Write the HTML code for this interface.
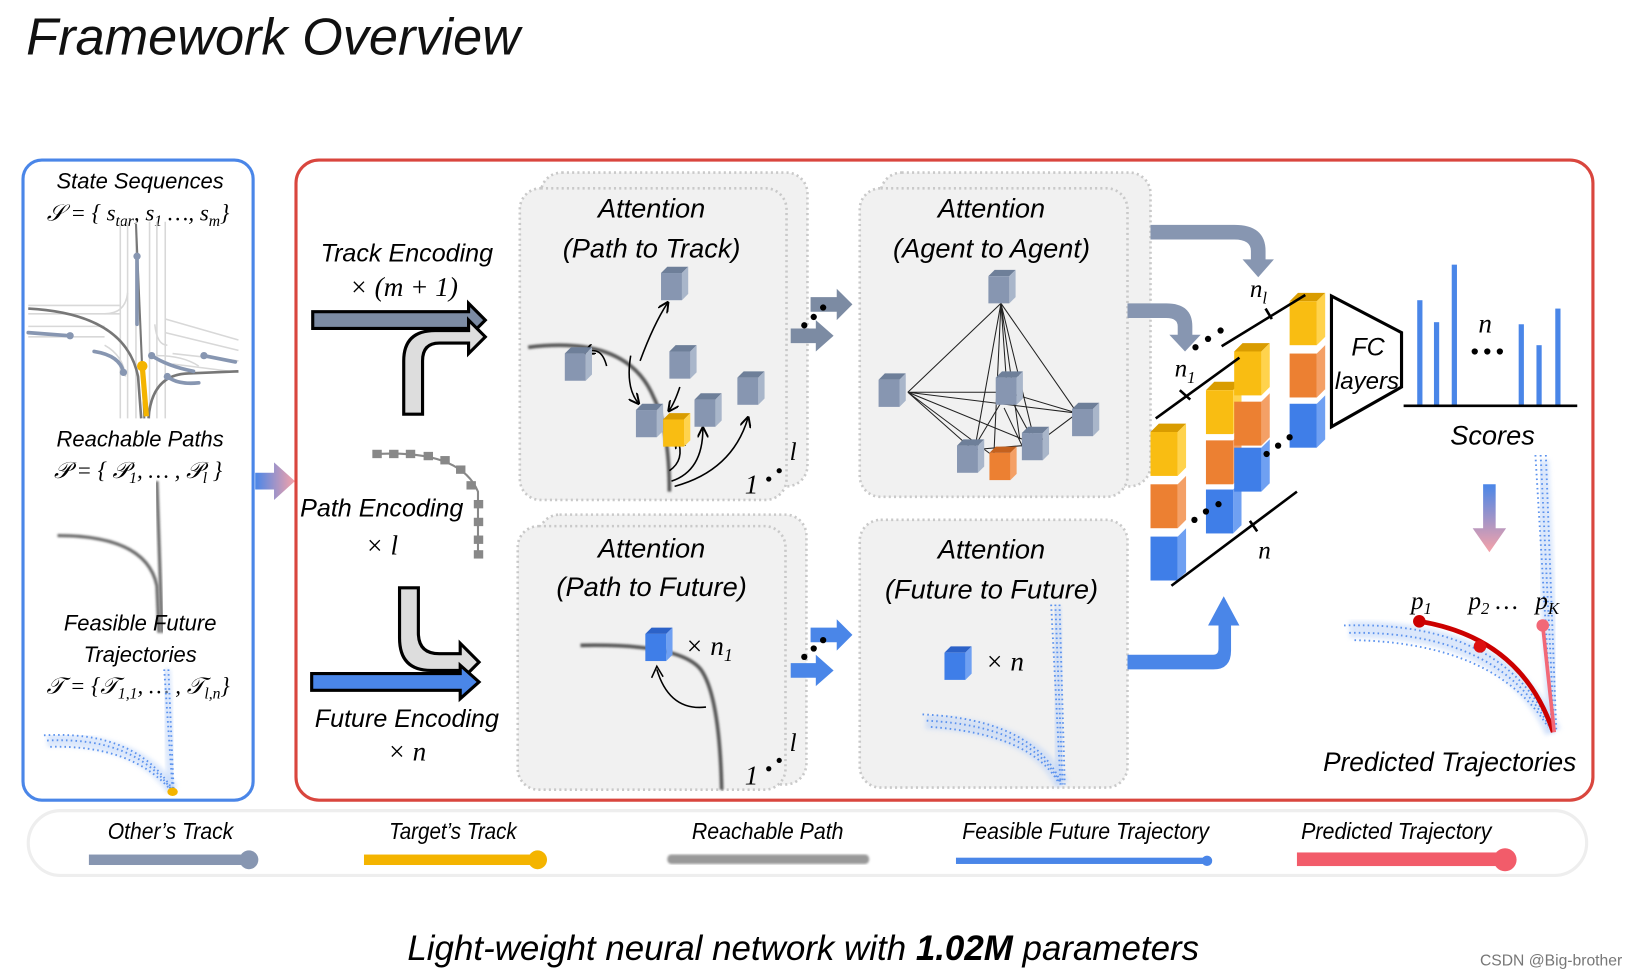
<!DOCTYPE html>
<html><head><meta charset="utf-8"><style>
html,body{margin:0;padding:0;background:#fff;}
svg{display:block;}
text{font-family:"Liberation Sans","DejaVu Sans",sans-serif;}
.it{font-style:italic;}
.m{font-family:"Liberation Serif","DejaVu Serif",serif;font-style:italic;}
</style></head><body>
<svg width="1640" height="978" viewBox="0 0 1568 935" xmlns="http://www.w3.org/2000/svg">
<defs>
<g id="cg"><path d="M0,6 L6,0 L26,0 L20,6Z" fill="#6e7f99"/><path d="M20,6 L26,0 L26,26 L20,32Z" fill="#a9b6ca"/><rect x="0" y="6" width="20" height="26" fill="#8796b1"/></g>
<g id="cy"><path d="M0,6 L6,0 L26,0 L20,6Z" fill="#d99c00"/><path d="M20,6 L26,0 L26,26 L20,32Z" fill="#ffd34d"/><rect x="0" y="6" width="20" height="26" fill="#f9bd12"/></g>
<g id="co"><path d="M0,6 L6,0 L26,0 L20,6Z" fill="#c4611e"/><path d="M20,6 L26,0 L26,26 L20,32Z" fill="#f4a066"/><rect x="0" y="6" width="20" height="26" fill="#ec8032"/></g>
<g id="cb"><path d="M0,6 L6,0 L26,0 L20,6Z" fill="#2c62c8"/><path d="M20,6 L26,0 L26,26 L20,32Z" fill="#6fa0f2"/><rect x="0" y="6" width="20" height="26" fill="#3f7ee8"/></g>
<g id="sy"><path d="M0,8 L8,0 L34,0 L26,8Z" fill="#d99c00"/><path d="M26,8 L34,0 L34,42 L26,50Z" fill="#ffd34d"/><rect x="0" y="8" width="26" height="42" fill="#f9bd12"/></g>
<g id="so"><path d="M26,8 L34,0 L34,42 L26,50Z" fill="#f4a066"/><rect x="0" y="8" width="26" height="42" fill="#ec8032"/></g>
<g id="sb"><path d="M26,8 L34,0 L34,42 L26,50Z" fill="#6fa0f2"/><rect x="0" y="8" width="26" height="42" fill="#3f7ee8"/></g>
<linearGradient id="bp" x1="0" x2="1"><stop offset="0" stop-color="#4a86e8"/><stop offset="1" stop-color="#f7a2a8"/></linearGradient>
<linearGradient id="bpv" x1="0" x2="0" y1="0" y2="1"><stop offset="0" stop-color="#4a86e8"/><stop offset="1" stop-color="#f7a2a8"/></linearGradient>
<filter id="bl"><feGaussianBlur stdDeviation="2"/></filter>
<filter id="bl1"><feGaussianBlur stdDeviation="1"/></filter>
<marker id="ah" viewBox="0 0 10 10" refX="8" refY="5" markerWidth="7" markerHeight="7" orient="auto-start-reverse"><path d="M0,0L10,5L0,10" fill="none" stroke="#000" stroke-width="1.8"/></marker>
</defs>

<!-- Title -->
<text x="25" y="52" font-size="50" class="it" fill="#111">Framework Overview</text>

<!-- Left blue box -->
<rect x="22" y="153" width="220" height="612" rx="18" fill="#fff" stroke="#4a86e8" stroke-width="3"/>
<text x="134" y="180" font-size="21" class="it" text-anchor="middle">State Sequences</text>
<text x="132" y="211" font-size="22" class="m" text-anchor="middle">𝒮 = { s<tspan font-size="15" dy="5">tar</tspan><tspan dy="-5">, s</tspan><tspan font-size="15" dy="5">1</tspan><tspan dy="-5"> …, s</tspan><tspan font-size="15" dy="5">m</tspan><tspan dy="-5">}</tspan></text>
<g stroke="#d8d8d8" stroke-width="1.5" fill="none">
<path d="M115,212V400M122,212V400M130,212V400M143,212V400M150,212V400M158,212V400"/>
<path d="M27,292H115M27,300H115M27,312H100M27,322H100M158,305L228,325M158,318L228,335M165,338L228,345M165,348L228,356"/>
<path d="M100,300Q120,300 122,280M160,330Q150,330 148,310M100,330Q118,340 120,360M150,340Q175,340 190,350"/>
</g>
<path d="M27,295Q120,300 132,360L135,400" stroke="#777" stroke-width="2.5" fill="none"/>
<path d="M130,214L138,400" stroke="#777" stroke-width="2" fill="none"/>
<path d="M142,400Q145,358 180,357L228,355" stroke="#777" stroke-width="2.5" fill="none"/>
<g stroke="#8796b1" stroke-width="3.5" fill="none" stroke-linecap="round">
<path d="M131,245V310"/><path d="M27,318L67,321"/><path d="M90,336Q115,340 118,356"/><path d="M145,340Q160,350 185,355"/><path d="M195,340L225,346"/><path d="M160,360Q170,368 190,366"/>
</g>
<g fill="#8796b1"><circle cx="131" cy="245" r="3.5"/><circle cx="67" cy="321" r="3.5"/><circle cx="118" cy="356" r="3.5"/><circle cx="145" cy="340" r="3.5"/><circle cx="195" cy="340" r="3.5"/><circle cx="160" cy="360" r="3.5"/></g>
<path d="M136,350L140,398" stroke="#f4b400" stroke-width="5"/><circle cx="136" cy="350" r="5" fill="#f4b400"/>

<text x="134" y="427" font-size="21" class="it" text-anchor="middle">Reachable Paths</text>
<text x="132" y="457" font-size="22" class="m" text-anchor="middle">𝒫 = { 𝒫<tspan font-size="15" dy="5">1</tspan><tspan dy="-5">, … , 𝒫</tspan><tspan font-size="15" dy="5">l</tspan><tspan dy="-5"> }</tspan></text>
<path d="M55,512Q140,512 150,560L152,605" stroke="#666" stroke-width="3" fill="none" filter="url(#bl1)"/>
<path d="M150,460L155,605" stroke="#666" stroke-width="3" fill="none" filter="url(#bl1)"/>

<text x="134" y="603" font-size="21" class="it" text-anchor="middle">Feasible Future</text>
<text x="134" y="633" font-size="21" class="it" text-anchor="middle">Trajectories</text>
<text x="132" y="663" font-size="22" class="m" text-anchor="middle">𝒯 = {𝒯<tspan font-size="15" dy="5">1,1</tspan><tspan dy="-5">, … , 𝒯</tspan><tspan font-size="15" dy="5">l,n</tspan><tspan dy="-5">}</tspan></text>
<path d="M45,708Q130,705 165,755" stroke="#b8d0f8" stroke-width="12" fill="none" opacity="0.5" filter="url(#bl)"/>
<path d="M158,640L165,755" stroke="#b8d0f8" stroke-width="10" fill="none" opacity="0.5" filter="url(#bl)"/>
<g stroke="#5b92ee" stroke-width="1.8" stroke-dasharray="1.5 3" fill="none">
<path d="M42,703Q130,698 165,755"/><path d="M45,708Q128,704 164,755"/><path d="M48,714Q125,712 163,755"/><path d="M157,640L165,755"/><path d="M161,640L166,755"/>
</g>
<ellipse cx="165" cy="757" rx="5" ry="4" fill="#f4b400"/>

<path d="M244,452H262V442L282,460L262,478V468H244Z" fill="url(#bp)"/>

<!-- Red box -->
<rect x="283" y="153" width="1240" height="612" rx="22" fill="#fff" stroke="#d9463e" stroke-width="3"/>

<text x="389" y="250" font-size="24" class="it" text-anchor="middle">Track Encoding</text>
<text x="386" y="283" font-size="26" class="m" text-anchor="middle">× (m + 1)</text>
<path d="M299,298H448V290L464,306L448,322V314H299Z" fill="#7c8ba3" stroke="#000" stroke-width="3"/>
<path d="M386,396V345Q386,316 416,316H448V306L464,322L448,338V328H420Q404,328 404,345V396Z" fill="#ddd" stroke="#000" stroke-width="3"/>
<g fill="#888"><rect x="356" y="430" width="9" height="8"/><rect x="372" y="430" width="9" height="8"/><rect x="388" y="430" width="9" height="8"/><rect x="405" y="432" width="9" height="8"/><rect x="421" y="436" width="9" height="8"/><rect x="436" y="445" width="9" height="8"/><rect x="446" y="460" width="9" height="8"/><rect x="453" y="478" width="9" height="8"/><rect x="453" y="495" width="9" height="8"/><rect x="453" y="512" width="9" height="8"/><rect x="453" y="526" width="9" height="8"/></g>
<path d="M360,434Q440,430 457,470V530" stroke="#888" stroke-width="2" fill="none"/>
<text x="365" y="494" font-size="24" class="it" text-anchor="middle">Path Encoding</text>
<text x="365" y="530" font-size="26" class="m" text-anchor="middle">× l</text>
<path d="M382,562H400V605Q400,625 420,625H440V615L458,633L440,651V641H412Q382,641 382,610Z" fill="#ddd" stroke="#000" stroke-width="3"/>
<path d="M298,644H440V636L458,652L440,668V660H298Z" fill="#4a86e8" stroke="#000" stroke-width="3"/>
<text x="389" y="695" font-size="24" class="it" text-anchor="middle">Future Encoding</text>
<text x="389" y="727" font-size="26" class="m" text-anchor="middle">× n</text>

<g fill="#f1f1f1" stroke="#c9c9c9" stroke-width="2.5" stroke-dasharray="2 3">
<rect x="517" y="165" width="255" height="300" rx="20"/>
<rect x="497" y="180" width="255" height="298" rx="20"/>
<rect x="842" y="165" width="258" height="300" rx="20"/>
<rect x="822" y="180" width="256" height="295" rx="20"/>
<rect x="515" y="492" width="256" height="258" rx="20"/>
<rect x="495" y="503" width="256" height="252" rx="20"/>
<rect x="822" y="497" width="256" height="256" rx="20"/>
</g>

<text x="623" y="208" font-size="26" class="it" text-anchor="middle">Attention</text>
<text x="623" y="246" font-size="26" class="it" text-anchor="middle">(Path to Track)</text>
<path d="M505,332Q600,320 625,380Q640,410 640,470" stroke="#555" stroke-width="3.5" fill="none" filter="url(#bl1)"/>
<g stroke="#000" stroke-width="1.5" fill="none" marker-end="url(#ah)">
<path d="M580,350Q575,330 560,337"/><path d="M612,345Q625,310 638,290"/><path d="M603,340Q598,370 610,385"/><path d="M650,370Q645,385 640,392"/><path d="M640,450Q655,440 648,420"/><path d="M642,460Q672,450 672,410"/><path d="M645,465Q700,450 715,400"/>
</g>
<use href="#cg" x="540" y="332"/><use href="#cg" x="632" y="255"/><use href="#cg" x="640" y="330"/><use href="#cg" x="608" y="386"/><use href="#cg" x="664" y="376"/><use href="#cg" x="705" y="355"/><use href="#cy" x="634" y="395"/>
<text x="712" y="472" font-size="26" class="m">1</text><circle cx="735" cy="458" r="2.5"/><circle cx="745" cy="450" r="2.5"/>
<text x="755" y="440" font-size="24" class="m">l</text>

<text x="948" y="208" font-size="26" class="it" text-anchor="middle">Attention</text>
<text x="948" y="246" font-size="26" class="it" text-anchor="middle">(Agent to Agent)</text>
<g stroke="#222" stroke-width="1" fill="none">
<path d="M957,290L868,375M957,290L930,440M957,290L963,375M957,290L1030,395M957,290L990,425M957,290L950,440M957,290L975,420"/>
<path d="M868,375L963,375M868,375L1030,395M868,375L930,430M868,375L990,425M868,375L955,440M963,375L1030,395M963,375L930,430M963,375L990,425M930,430L990,425M990,425L1030,395M960,390L980,432"/>
</g>
<use href="#cg" x="945" y="258"/><use href="#cg" x="840" y="357"/><use href="#cg" x="952" y="355"/><use href="#cg" x="1025" y="385"/><use href="#cg" x="915" y="420"/><use href="#cg" x="977" y="408"/><use href="#co" x="946" y="427"/>

<text x="623" y="533" font-size="26" class="it" text-anchor="middle">Attention</text>
<text x="623" y="570" font-size="26" class="it" text-anchor="middle">(Path to Future)</text>
<path d="M555,617Q650,615 670,640Q688,665 690,755" stroke="#555" stroke-width="3.5" fill="none" filter="url(#bl1)"/>
<path d="M675,676Q640,680 628,640" stroke="#000" stroke-width="1.5" fill="none"/>
<path d="M623,648L628,637L634,647" stroke="#000" stroke-width="1.5" fill="none"/>
<use href="#cb" x="617" y="600"/>
<text x="655" y="626" font-size="26" class="m">× n<tspan font-size="17" dy="6">1</tspan></text>
<text x="712" y="750" font-size="26" class="m">1</text><circle cx="735" cy="735" r="2.5"/><circle cx="745" cy="727" r="2.5"/>
<text x="755" y="718" font-size="24" class="m">l</text>

<text x="948" y="534" font-size="26" class="it" text-anchor="middle">Attention</text>
<text x="948" y="572" font-size="26" class="it" text-anchor="middle">(Future to Future)</text>
<use href="#cb" x="903" y="618"/>
<text x="942" y="641" font-size="26" class="m">× n</text>
<path d="M885,690Q990,695 1015,750" stroke="#b8d0f8" stroke-width="14" fill="none" opacity="0.5" filter="url(#bl)"/>
<path d="M1009,580L1015,750" stroke="#b8d0f8" stroke-width="12" fill="none" opacity="0.5" filter="url(#bl)"/>
<g stroke="#5b92ee" stroke-width="1.8" stroke-dasharray="1.5 3" fill="none">
<path d="M882,683Q990,688 1015,750"/><path d="M886,689Q988,694 1014,750"/><path d="M890,695Q985,702 1012,748"/><path d="M1005,578L1014,750"/><path d="M1009,578L1016,750"/><path d="M1013,578L1018,750"/>
</g>

<g fill="#7c8ba3"><path d="M775,284H800V276L815,291L800,306V298H775Z"/><path d="M756,314H780V306L797,321L780,336V328H756Z"/></g>
<circle cx="787" cy="294" r="3"/><circle cx="778" cy="303" r="3"/><circle cx="769" cy="311" r="3"/>
<g fill="#4a86e8"><path d="M775,600H800V592L815,607L800,622V614H775Z"/><path d="M756,634H780V626L797,641L780,656V648H756Z"/></g>
<circle cx="787" cy="612" r="3"/><circle cx="778" cy="620" r="3"/><circle cx="769" cy="628" r="3"/>

<path d="M1100,215H1180Q1210,215 1210,240V248H1218L1203,265L1188,248H1196V240Q1196,229 1180,229H1100Z" fill="#8796b1"/>
<path d="M1078,290H1115Q1140,290 1140,312V320H1148L1133,336L1118,320H1126V312Q1126,304 1115,304H1078Z" fill="#8796b1"/>
<path d="M1078,626H1160Q1165,626 1165,620V598H1155L1170,570L1185,598H1177V622Q1177,640 1160,640H1078Z" fill="#4a86e8"/>

<use href="#sy" x="1100" y="405"/><use href="#so" x="1100" y="455"/><use href="#sb" x="1100" y="505"/>
<use href="#sy" x="1153" y="365"/><use href="#so" x="1153" y="413"/><use href="#sb" x="1153" y="460"/>
<use href="#sy" x="1180" y="328"/><use href="#so" x="1180" y="376"/><use href="#sb" x="1180" y="420"/>
<use href="#sy" x="1233" y="280"/><use href="#so" x="1233" y="330"/><use href="#sb" x="1233" y="378"/>
<g stroke="#000" stroke-width="2.5" fill="none">
<path d="M1105,400L1185,342"/>
<path d="M1168,331L1248,282"/>
<path d="M1120,560L1240,470"/>
<path d="M1128,373L1138,382M1210,295L1216,305M1195,498L1202,508"/>
</g>
<g fill="#000"><circle cx="1143" cy="332" r="3"/><circle cx="1155" cy="324" r="3"/><circle cx="1167" cy="316" r="3"/>
<circle cx="1142" cy="497" r="3"/><circle cx="1153" cy="489" r="3"/><circle cx="1165" cy="482" r="3"/>
<circle cx="1211" cy="434" r="3"/><circle cx="1222" cy="426" r="3"/><circle cx="1233" cy="418" r="3"/></g>
<text x="1195" y="284" font-size="24" class="m">n<tspan font-size="16" dy="6">l</tspan></text>
<text x="1123" y="360" font-size="24" class="m">n<tspan font-size="16" dy="6">1</tspan></text>
<text x="1203" y="534" font-size="24" class="m">n</text>

<path d="M1273,283L1340,318V370L1273,408Z" fill="#fff" stroke="#000" stroke-width="3"/>
<text x="1308" y="340" font-size="24" class="it" text-anchor="middle">FC</text>
<text x="1307" y="372" font-size="23" class="it" text-anchor="middle">layers</text>

<g fill="#4a86e8"><rect x="1355" y="287" width="5" height="100"/><rect x="1371" y="308" width="5" height="79"/><rect x="1388" y="253" width="5" height="134"/><rect x="1452" y="310" width="5" height="77"/><rect x="1469" y="330" width="5" height="57"/><rect x="1487" y="295" width="5" height="92"/></g>
<path d="M1342,388H1508" stroke="#000" stroke-width="2.5"/>
<text x="1420" y="318" font-size="26" class="m" text-anchor="middle">n</text>
<circle cx="1410" cy="336" r="3"/><circle cx="1422" cy="336" r="3"/><circle cx="1434" cy="336" r="3"/>
<text x="1427" y="425" font-size="26" class="it" text-anchor="middle">Scores</text>

<path d="M1418,463H1430V505H1440L1424,528L1408,505H1418Z" fill="url(#bpv)"/>
<path d="M1290,602Q1440,600 1485,700" stroke="#b8d0f8" stroke-width="16" fill="none" opacity="0.5" filter="url(#bl)"/>
<path d="M1474,440L1486,700" stroke="#b8d0f8" stroke-width="14" fill="none" opacity="0.5" filter="url(#bl)"/>
<g stroke="#5b92ee" stroke-width="1.8" stroke-dasharray="1.5 3" fill="none">
<path d="M1285,598Q1440,593 1485,700"/><path d="M1290,605Q1435,603 1483,698"/><path d="M1295,612Q1430,615 1480,695"/><path d="M1468,435L1484,700"/><path d="M1473,435L1486,700"/><path d="M1478,435L1488,700"/>
</g>
<path d="M1357,594Q1455,610 1485,700" stroke="#c00" stroke-width="4.5" fill="none"/>
<path d="M1475,598L1486,700" stroke="#f26877" stroke-width="3.5" fill="none"/>
<circle cx="1357" cy="594" r="6" fill="#c00"/><circle cx="1415" cy="618" r="6" fill="#d11"/><circle cx="1475" cy="598" r="6" fill="#f26877"/>
<text x="1349" y="582" font-size="24" class="m">p<tspan font-size="16" dy="5">1</tspan></text>
<text x="1404" y="582" font-size="24" class="m">p<tspan font-size="16" dy="5">2</tspan><tspan dy="-5"> …</tspan></text>
<text x="1468" y="582" font-size="24" class="m">p<tspan font-size="16" dy="5">K</tspan></text>
<text x="1386" y="737" font-size="26" class="it" text-anchor="middle" textLength="242" lengthAdjust="spacingAndGlyphs">Predicted Trajectories</text>

<rect x="27" y="775" width="1490" height="62" rx="31" fill="#fff" stroke="#eee" stroke-width="3"/>
<g font-size="22" class="it" text-anchor="middle">
<text x="163" y="802" textLength="120" lengthAdjust="spacingAndGlyphs">Other’s Track</text>
<text x="433" y="802" textLength="122" lengthAdjust="spacingAndGlyphs">Target’s Track</text>
<text x="734" y="802" textLength="145" lengthAdjust="spacingAndGlyphs">Reachable Path</text>
<text x="1038" y="802" textLength="236" lengthAdjust="spacingAndGlyphs">Feasible Future Trajectory</text>
<text x="1335" y="802" textLength="182" lengthAdjust="spacingAndGlyphs">Predicted Trajectory</text>
</g>
<rect x="85" y="817" width="150" height="10" fill="#8796b1"/><circle cx="238" cy="822" r="9" fill="#8796b1"/>
<rect x="348" y="817" width="165" height="10" fill="#f4b400"/><circle cx="514" cy="822" r="9" fill="#f4b400"/>
<rect x="638" y="817" width="193" height="9" rx="4" fill="#999" filter="url(#bl1)"/>
<rect x="914" y="820" width="240" height="6" fill="#4a86e8"/><circle cx="1154" cy="823" r="5" fill="#4a86e8"/>
<rect x="1240" y="815" width="198" height="13" fill="#f25c6a"/><circle cx="1439" cy="822" r="11" fill="#f25c6a"/>

<text x="768" y="918" font-size="34" class="it" text-anchor="middle" textLength="757" lengthAdjust="spacingAndGlyphs">Light-weight neural network with <tspan font-weight="bold">1.02M</tspan> parameters</text>
<text x="1415" y="923" font-size="15" fill="#777">CSDN @Big-brother</text>
</svg>
</body></html>
